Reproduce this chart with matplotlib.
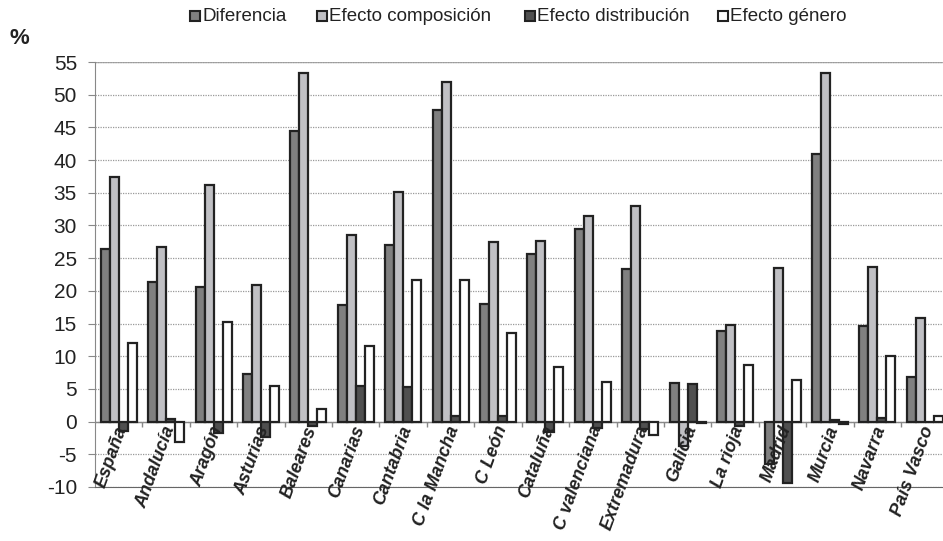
"""
Descomposición de la diferencia por comunidad autónoma
"""
import matplotlib
matplotlib.use('Agg')
import matplotlib.pyplot as plt
from matplotlib.patches import Rectangle
import numpy as np

plt.rcParams['font.family'] = ['Liberation Sans', 'DejaVu Sans']
plt.rcParams['axes.unicode_minus'] = False

regiones = ['España', 'Andalucía', 'Aragón', 'Asturias', 'Baleares', 'Canarias',
            'Cantabria', 'C la Mancha', 'C León', 'Cataluña', 'C valenciana',
            'Extremadura', 'Galicia', 'La rioja', 'Madrid', 'Murcia', 'Navarra',
            'País Vasco']

diferencia = [26.4, 21.4, 20.6, 7.3, 44.4, 17.9, 27.0, 47.6, 18.0, 25.6, 29.4,
              23.4, 5.9, 13.8, -6.5, 41.0, 14.7, 6.8]
composicion = [37.4, 26.7, 36.2, 20.9, 53.3, 28.6, 35.1, 52.0, 27.5, 27.7, 31.5,
               33.0, -3.8, 14.8, 23.5, 53.3, 23.7, 15.8]
distribucion = [-1.4, 0.4, -1.7, -2.4, -0.6, 5.4, 5.3, 0.8, 0.8, -1.6, -0.9,
                -1.2, 5.7, -0.7, -9.4, 0.3, 0.6, -0.05]
genero = [12.0, -3.1, 15.2, 5.5, 2.0, 11.6, 21.6, 21.7, 13.5, 8.4, 6.1,
          -2.1, -0.2, 8.7, 6.4, -0.3, 10.0, 0.8]

series = ['Diferencia', 'Efecto composición', 'Efecto distribución', 'Efecto género']
colores = ['#808080', '#c0c0c4', '#505050', '#ffffff']

fig = plt.figure(figsize=(9.43, 5.41), dpi=100)
ax = fig.add_axes([95 / 943, 54 / 541, 853.5 / 943, 425 / 541])

x = np.arange(len(regiones))
ancho = 0.19
datos = [diferencia, composicion, distribucion, genero]
for i, (vals, nombre, color) in enumerate(zip(datos, series, colores)):
    ax.bar(x + (i - 1.5) * ancho, vals, ancho, color=color, edgecolor='#222222',
           linewidth=1.6, label=nombre, zorder=3)

ax.set_xlim(-0.5, len(regiones) - 0.5)
ax.set_ylim(-10, 55)
ax.set_yticks(np.arange(-10, 56, 5))
ax.tick_params(axis='y', labelsize=15, colors='#222222', length=5, color='#888888',
               pad=8)
ax.set_xticks([])
ax.yaxis.grid(True, linestyle=(0, (1, 1)), color='#999999', linewidth=0.9, zorder=0)

# línea del cero con marcas entre categorías
ax.axhline(0, color='#888888', linewidth=1.0, zorder=2)
ax.vlines(x[:-1] + 0.5, -0.75, 0, color='#888888', linewidth=1.0, zorder=2)

for lado in ['top', 'right']:
    ax.spines[lado].set_visible(False)
ax.axhline(55, color='#aaaaaa', linewidth=1.0, zorder=1)
ax.spines['left'].set_color('#888888')
ax.spines['bottom'].set_color('#666666')

# etiquetas de las categorías sobre la línea del cero
for xi, nombre in zip(x, regiones):
    ax.text(xi - 0.08, -0.3, nombre, rotation=70, rotation_mode='anchor',
            ha='right', va='top', fontsize=13, fontweight='bold',
            fontstyle='italic', color='#222222', zorder=4)

fig.text(9 / 943, 1 - 38 / 541, '%', fontsize=16, fontweight='bold',
         color='#222222', va='center')

# leyenda manual en una fila
ley_x = [190, 317, 525, 718]
ley_y = 16
for px, nombre, color in zip(ley_x, series, colores):
    fig.patches.append(Rectangle((px / 943, 1 - (ley_y + 5) / 541), 10 / 943, 10 / 541,
                                 transform=fig.transFigure, facecolor=color,
                                 edgecolor='#222222', linewidth=1.5))
    fig.text((px + 12) / 943, 1 - (ley_y + 5) / 541, nombre, fontsize=13.5,
             color='#222222', va='baseline', ha='left')

fig.savefig('out.png', dpi=100)
